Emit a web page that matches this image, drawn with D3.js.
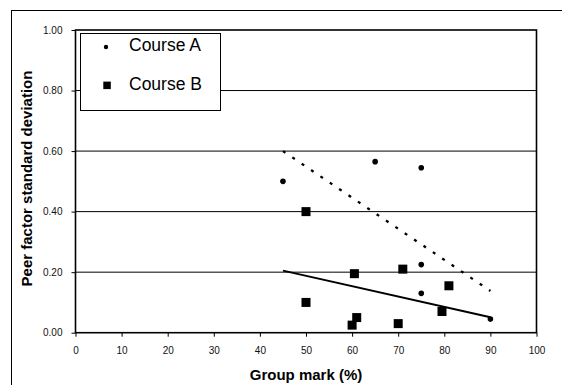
<!DOCTYPE html>
<html>
<head>
<meta charset="utf-8">
<title>Peer factor standard deviation vs group mark</title>
<style>
  body { margin: 0; background: #fff; }
  svg { display: block; font-family: "Liberation Sans", Arial, sans-serif; }
  .axis path { display: none; }
  .axis line { stroke: #000; stroke-width: 1; }
  .axis text { font-size: 10px; fill: #111; }
  .grid line { stroke: #000; stroke-width: 1; }
</style>
</head>
<body>
<script src="https://d3js.org/d3.v7.min.js"></script>
<script>
// data
var courseAx = [45, 65, 75, 75, 75, 90];
var courseAy = [0.50, 0.565, 0.545, 0.225, 0.13, 0.045];
var courseBx = [50, 50, 60.5, 60, 61, 70, 71, 79.5, 81];
var courseBy = [0.40, 0.10, 0.195, 0.025, 0.05, 0.03, 0.21, 0.07, 0.155];
// trendline end points (x, y)
var trendAx = [45, 90], trendAy = [0.60, 0.138];
var trendBx = [45, 90], trendBy = [0.205, 0.051];
var xTicks = [0, 10, 20, 30, 40, 50, 60, 70, 80, 90, 100];
var yTicks = [0, 0.2, 0.4, 0.6, 0.8, 1.0];
var gridY = [0.2, 0.4, 0.6, 0.8];
var seriesNames = ["Course A", "Course B"];

var W = 562, H = 385;
var plot = {left: 75.5, right: 536.5, top: 30, bottom: 332.7};

var svg = d3.select("body").append("svg")
    .attr("width", W)
    .attr("height", H);

// outer chart frame (runs off the right and bottom edge)
svg.append("rect")
    .attr("x", 11.5).attr("y", 10.5)
    .attr("width", 580).attr("height", 400)
    .attr("fill", "#fff")
    .attr("stroke", "#000")
    .attr("stroke-width", 1);

var x = d3.scaleLinear().domain([0, 100]).range([plot.left, plot.right]);
var y = d3.scaleLinear().domain([0, 1]).range([plot.bottom, plot.top]);

// gridlines
svg.append("g").attr("class", "grid")
    .selectAll("line")
    .data(gridY)
    .enter().append("line")
    .attr("x1", plot.left).attr("x2", plot.right)
    .attr("y1", function(d){ return y(d); })
    .attr("y2", function(d){ return y(d); });

// axes
svg.append("g")
    .attr("class", "axis")
    .attr("transform", "translate(" + plot.left + ",0)")
    .call(d3.axisLeft(y).tickValues(yTicks).tickFormat(d3.format(".2f"))
        .tickSizeInner(4).tickSizeOuter(0).tickPadding(9));

svg.append("g")
    .attr("class", "axis")
    .attr("transform", "translate(0," + plot.bottom + ")")
    .call(d3.axisBottom(x).tickValues(xTicks).tickFormat(d3.format("d"))
        .tickSizeInner(4).tickSizeOuter(0).tickPadding(10));

// plot area border
svg.append("rect")
    .attr("x", plot.left).attr("y", plot.top)
    .attr("width", plot.right - plot.left)
    .attr("height", plot.bottom - plot.top)
    .attr("fill", "none")
    .attr("stroke", "#000")
    .attr("stroke-width", 1.6);

// trendlines
var line = d3.line()
    .x(function(d){ return x(d[0]); })
    .y(function(d){ return y(d[1]); });

svg.append("path")
    .datum(d3.zip(trendAx, trendAy))
    .attr("d", line)
    .attr("fill", "none")
    .attr("stroke", "#000")
    .attr("stroke-width", 2.3)
    .attr("stroke-dasharray", "3,8.3");

svg.append("path")
    .datum(d3.zip(trendBx, trendBy))
    .attr("d", line)
    .attr("fill", "none")
    .attr("stroke", "#000")
    .attr("stroke-width", 2);

// Course A points
svg.append("g")
    .selectAll("circle")
    .data(d3.zip(courseAx, courseAy))
    .enter().append("circle")
    .attr("cx", function(d){ return x(d[0]); })
    .attr("cy", function(d){ return y(d[1]); })
    .attr("r", 2.8)
    .attr("fill", "#000");

// Course B points
var sq = 9;
svg.append("g")
    .selectAll("rect")
    .data(d3.zip(courseBx, courseBy))
    .enter().append("rect")
    .attr("x", function(d){ return x(d[0]) - sq / 2; })
    .attr("y", function(d){ return y(d[1]) - sq / 2; })
    .attr("width", sq).attr("height", sq)
    .attr("fill", "#000");

// legend
var legend = svg.append("g");
legend.append("rect")
    .attr("x", 80.5).attr("y", 33.5)
    .attr("width", 140).attr("height", 77)
    .attr("fill", "#fff")
    .attr("stroke", "#000")
    .attr("stroke-width", 1);

legend.append("circle")
    .attr("cx", 106).attr("cy", 47)
    .attr("r", 2.2)
    .attr("fill", "#000");

legend.append("rect")
    .attr("x", 103.3).attr("y", 81.6)
    .attr("width", 7.5).attr("height", 7.5)
    .attr("fill", "#000");

legend.selectAll("text")
    .data(seriesNames)
    .enter().append("text")
    .attr("x", 129)
    .attr("y", function(d, i){ return 51 + i * 39; })
    .style("font-size", "17.5px")
    .attr("fill", "#000")
    .text(function(d){ return d; });

// axis titles
svg.append("text")
    .attr("x", (plot.left + plot.right) / 2)
    .attr("y", 380)
    .attr("text-anchor", "middle")
    .style("font-size", "15px")
    .style("font-weight", "bold")
    .text("Group mark (%)");

svg.append("text")
    .attr("transform", "translate(32,178.5) rotate(-90)")
    .attr("text-anchor", "middle")
    .style("font-size", "15px")
    .style("font-weight", "bold")
    .text("Peer factor standard deviation");
</script>
</body>
</html>
